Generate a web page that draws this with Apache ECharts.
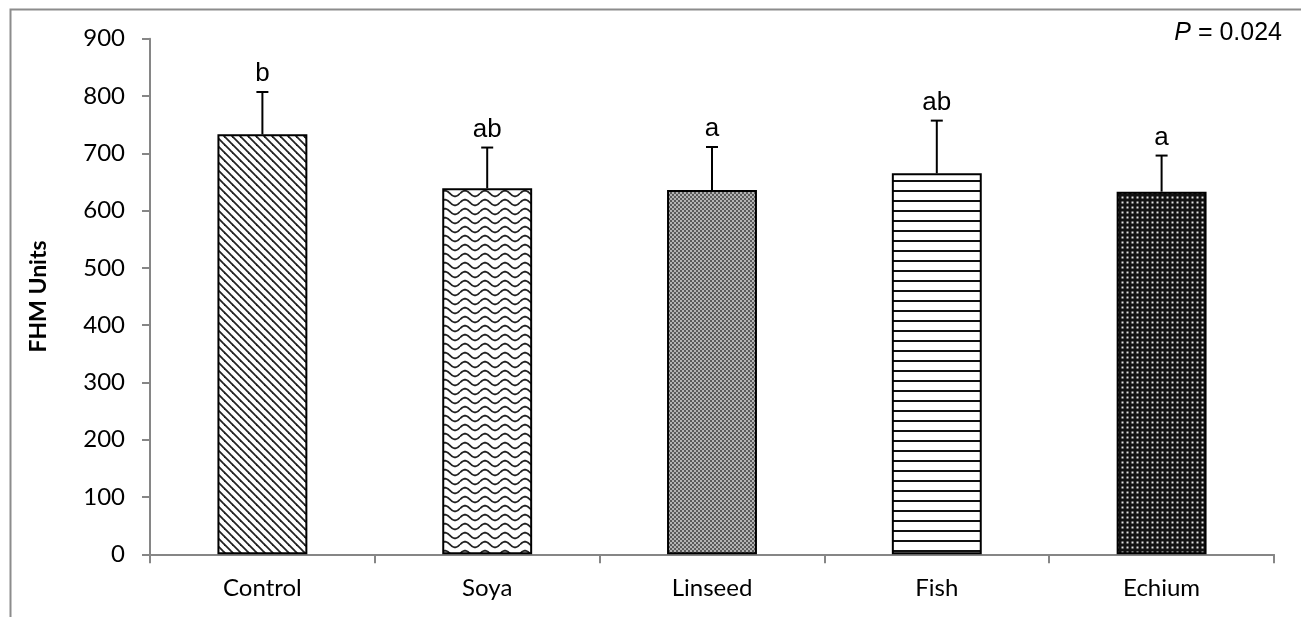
<!DOCTYPE html>
<html>
<head>
<meta charset="utf-8">
<title>FHM Units by diet</title>
<script src="https://cdn.jsdelivr.net/npm/echarts@6/dist/echarts.min.js"></script>
<style>
  html, body { margin: 0; padding: 0; background: #fff; }
  #chart { width: 1301px; height: 617px; }
</style>
</head>
<body>
<div id="chart"></div>
<script>
// Diet groups, mean FHM units, upper end of the error bar and significance letters
const categories = ['Control', 'Soya', 'Linseed', 'Fish', 'Echium'];
const means = [733, 639, 636, 665, 633];
const upper = [807, 710, 711, 757, 696];
const letters = ['b', 'ab', 'a', 'ab', 'a'];
const yTicks = [0, 100, 200, 300, 400, 500, 600, 700, 800, 900];
const pValueText = '0.024';

// ---- fill patterns, one per diet ----
function tile(w, h, draw) {
  const c = document.createElement('canvas');
  c.width = w; c.height = h;
  const ctx = c.getContext('2d');
  ctx.fillStyle = '#fff';
  ctx.fillRect(0, 0, w, h);
  draw(ctx, w, h);
  return { image: c, repeat: 'repeat' };
}

const patterns = [
  // back-diagonal stripes
  tile(8, 8, (ctx, w, h) => {
    ctx.strokeStyle = '#222';
    ctx.lineWidth = 1.8;
    for (let k = -1; k <= 1; k++) {
      ctx.beginPath();
      ctx.moveTo(-2 + k * w, -2);
      ctx.lineTo(w + 2 + k * w, h + 2);
      ctx.stroke();
    }
  }),
  // waves
  tile(20, 9, (ctx, w, h) => {
    ctx.strokeStyle = '#222';
    ctx.lineWidth = 1.8;
    ctx.beginPath();
    for (let x = 0; x <= w; x += 0.5) {
      const y = 4.5 - 2.8 * Math.sin(2 * Math.PI * x / w);
      if (x === 0) ctx.moveTo(x, y); else ctx.lineTo(x, y);
    }
    ctx.stroke();
  }),
  // fine grey checker
  tile(4, 4, (ctx) => {
    ctx.fillStyle = '#5a5a5a';
    ctx.fillRect(0, 0, 4, 4);
    ctx.fillStyle = '#b4b4b4';
    ctx.fillRect(0, 0, 2, 2);
    ctx.fillRect(2, 2, 2, 2);
  }),
  // horizontal lines
  tile(4, 10, (ctx) => {
    ctx.fillStyle = '#111';
    ctx.fillRect(0, 0, 4, 2);
  }),
  // light dots on black
  tile(5, 5, (ctx) => {
    ctx.fillStyle = '#111';
    ctx.fillRect(0, 0, 5, 5);
    ctx.fillStyle = '#e0e0e0';
    ctx.fillRect(1.5, 1.5, 2, 2);
  })
];

const barData = means.map((v, i) => ({
  value: v,
  itemStyle: { color: patterns[i] }
}));

const errData = categories.map((c, i) => [i, means[i], upper[i]]);

const chart = echarts.init(document.getElementById('chart'), null, { renderer: 'canvas' });

chart.setOption({
  animation: false,
  backgroundColor: '#fff',
  grid: { left: 150, right: 27, top: 38.7, bottom: 62.7, containLabel: false },
  xAxis: {
    type: 'category',
    data: categories,
    axisLine: { lineStyle: { color: '#868686', width: 2 } },
    axisTick: { show: true, length: 9, lineStyle: { color: '#868686', width: 2 } },
    axisLabel: {
      margin: 22,
      color: '#000',
      fontFamily: 'Lato',
      fontSize: 24
    },
    splitLine: { show: false }
  },
  yAxis: {
    type: 'value',
    min: yTicks[0],
    max: yTicks[yTicks.length - 1],
    interval: yTicks[1] - yTicks[0],
    name: 'FHM Units',
    nameLocation: 'middle',
    nameGap: 100,
    nameRotate: 90,
    nameTextStyle: {
      color: '#000',
      fontFamily: 'Lato',
      fontWeight: 'bold',
      fontSize: 23
    },
    axisLine: { show: true, lineStyle: { color: '#868686', width: 2 } },
    axisTick: { show: true, length: 8, lineStyle: { color: '#868686', width: 2 } },
    axisLabel: {
      margin: 25,
      color: '#000',
      fontFamily: 'Lato',
      fontSize: 24
    },
    splitLine: { show: false }
  },
  series: [
    {
      type: 'bar',
      data: barData,
      barWidth: '40%',
      itemStyle: { borderColor: '#000', borderWidth: 2 },
      z: 2
    },
    {
      type: 'custom',
      data: errData,
      z: 3,
      renderItem: function (params, api) {
        const x = api.value(0);
        const base = api.coord([x, api.value(1)]);
        const top = api.coord([x, api.value(2)]);
        const cap = 6;
        return {
          type: 'group',
          children: [
            {
              type: 'line',
              shape: { x1: base[0], y1: base[1], x2: top[0], y2: top[1] },
              style: { stroke: '#000', lineWidth: 2 }
            },
            {
              type: 'line',
              shape: { x1: top[0] - cap, y1: top[1], x2: top[0] + cap, y2: top[1] },
              style: { stroke: '#000', lineWidth: 2 }
            },
            {
              type: 'text',
              x: top[0],
              y: top[1] - 5,
              style: {
                text: letters[params.dataIndex],
                fill: '#000',
                font: '26px "Liberation Sans", Arial, sans-serif',
                align: 'center',
                verticalAlign: 'bottom'
              }
            }
          ]
        };
      }
    }
  ],
  graphic: [
    {
      type: 'rect',
      shape: { x: 10.5, y: 9.5, width: 1400, height: 700 },
      style: { fill: null, stroke: '#8c8c8c', lineWidth: 2 },
      silent: true,
      z: -1
    },
    {
      type: 'text',
      right: 19,
      top: 21,
      style: {
        text: '{i|P} = ' + pValueText,
        fill: '#000',
        font: '25px "Liberation Sans", Arial, sans-serif',
        rich: {
          i: { fontStyle: 'italic', fontSize: 25, fontFamily: '"Liberation Sans", Arial, sans-serif', fill: '#000' }
        }
      }
    }
  ]
});
</script>
</body>
</html>
